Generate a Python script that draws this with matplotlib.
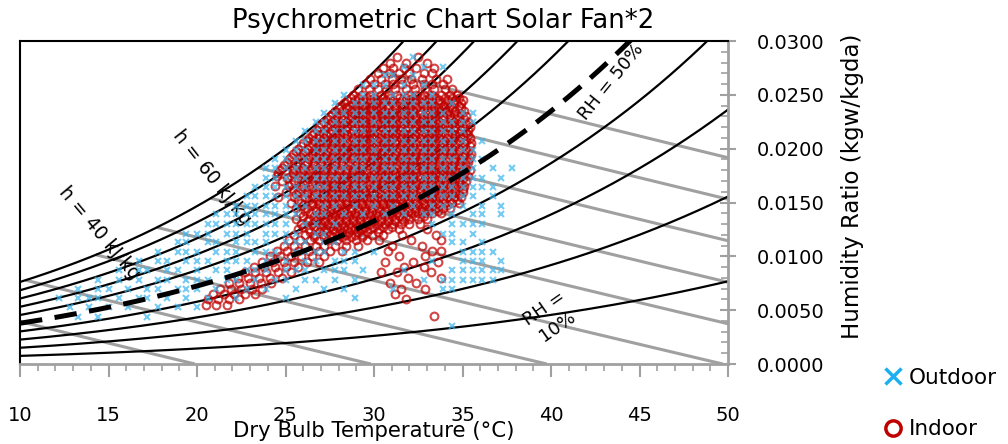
import numpy as np
import matplotlib
matplotlib.use("Agg")
import matplotlib.pyplot as plt
from matplotlib.lines import Line2D

plt.rcParams['font.family'] = ['DejaVu Sans']

# chart lines
rh_levels = [10, 20, 30, 40, 50, 60, 70, 80, 90, 100]
h_levels = [20, 30, 40, 50, 60, 70, 80, 90, 100]
x_ticks = [10, 15, 20, 25, 30, 35, 40, 45, 50]
y_ticks = [0.0, 0.005, 0.010, 0.015, 0.020, 0.025, 0.030]

# outdoor readings, one list of dry bulb temps (C) per humidity ratio row
outdoor_w = [0.0035, 0.0044, 0.0053, 0.0061, 0.0070, 0.0078, 0.0087, 0.0096,
             0.0104, 0.0113, 0.0121, 0.0130, 0.0139, 0.0147, 0.0156, 0.0164,
             0.0173, 0.0182, 0.0190, 0.0199, 0.0207, 0.0216, 0.0225, 0.0233,
             0.0242, 0.0250, 0.0259, 0.0268, 0.0276, 0.0285]
outdoor_t = [
    [34.4],
    [13.3, 14.4, 17.2],
    [12.8, 13.9, 15.0, 16.1, 17.8, 18.9, 20.0],
    [12.2, 13.3, 13.9, 14.4, 15.6, 16.7, 17.2, 18.3, 19.4, 20.6, 22.2, 25.0, 28.9],
    [13.3, 14.4, 15.0, 16.1, 17.2, 17.8, 18.9, 19.4, 20.0, 21.1, 22.8, 23.9, 25.6, 27.2, 28.3, 31.1, 33.9, 34.4],
    [14.4, 15.6, 16.7, 17.8, 18.3, 19.4, 20.0, 20.6, 21.7, 22.2, 23.3, 24.4, 25.0, 26.1, 26.7, 27.8, 28.9, 32.8, 33.9, 34.4, 35.0, 35.6, 36.1, 36.7],
    [15.6, 16.7, 17.2, 18.3, 18.9, 20.0, 21.1, 21.7, 22.8, 23.3, 23.9, 25.0, 25.6, 26.1, 27.2, 27.8, 28.3, 29.4, 31.7, 34.4, 35.0, 35.6, 36.1, 36.7, 37.2],
    [16.7, 17.8, 18.3, 19.4, 20.0, 20.6, 21.7, 22.2, 22.8, 23.9, 24.4, 25.0, 26.1, 26.7, 27.8, 28.3, 28.9, 33.3, 35.0, 35.6, 36.1, 37.2],
    [17.8, 18.9, 19.4, 20.0, 21.1, 21.7, 22.2, 23.3, 23.9, 24.4, 25.6, 26.1, 26.7, 27.2, 28.3, 28.9, 30.0, 35.0, 35.6, 36.1, 36.7],
    [18.9, 19.4, 20.6, 21.1, 22.2, 22.8, 23.3, 23.9, 25.0, 25.6, 26.1, 27.2, 27.8, 34.4, 35.0, 36.1],
    [19.4, 20.0, 20.6, 21.7, 22.2, 22.8, 23.9, 24.4, 25.0, 25.6, 26.7, 27.2, 33.9, 34.4, 35.6],
    [20.6, 21.1, 21.7, 22.2, 22.8, 23.3, 23.9, 24.4, 25.0, 26.1, 26.7, 27.8, 33.3, 34.4, 35.0, 35.6, 36.1],
    [21.1, 21.7, 22.2, 22.8, 23.3, 23.9, 24.4, 25.0, 25.6, 26.7, 27.2, 28.3, 29.4, 30.6, 31.7, 32.8, 33.3, 34.4, 35.6, 36.1, 37.2],
    [22.2, 22.8, 23.3, 23.9, 24.4, 25.0, 25.6, 26.1, 27.2, 27.8, 28.9, 30.0, 31.1, 32.2, 33.3, 33.9, 34.4, 35.0, 36.1, 37.2],
    [22.8, 23.3, 23.9, 24.4, 25.0, 25.6, 26.1, 26.7, 27.2, 27.8, 28.3, 28.9, 29.4, 30.0, 30.6, 31.1, 31.7, 32.2, 32.8, 33.3, 33.9, 34.4, 35.0, 35.6, 36.7],
    [23.3, 23.9, 24.4, 25.0, 25.6, 26.1, 26.7, 27.2, 27.8, 28.3, 28.9, 29.4, 30.0, 30.6, 31.1, 31.7, 32.2, 32.8, 33.3, 33.9, 34.4, 35.0, 35.6, 36.1, 36.7],
    [23.9, 24.4, 25.0, 25.6, 26.1, 26.7, 27.2, 27.8, 28.3, 28.9, 29.4, 30.0, 30.6, 31.1, 31.7, 32.2, 32.8, 33.3, 33.9, 34.4, 35.0, 35.6, 36.1, 37.2],
    [23.9, 24.4, 25.0, 25.6, 26.1, 26.7, 27.2, 27.8, 28.3, 28.9, 29.4, 30.0, 30.6, 31.1, 31.7, 32.2, 32.8, 33.3, 33.9, 34.4, 35.0, 35.6, 36.7, 37.8],
    [24.4, 25.0, 25.6, 26.1, 26.7, 27.2, 27.8, 28.3, 28.9, 29.4, 30.0, 30.6, 31.1, 31.7, 32.2, 32.8, 33.3, 33.9, 34.4, 35.0, 35.6, 36.1],
    [25.0, 25.6, 26.1, 26.7, 27.2, 27.8, 28.3, 28.9, 29.4, 30.0, 30.6, 31.1, 31.7, 32.2, 32.8, 33.3, 33.9, 34.4, 35.0, 35.6],
    [25.6, 26.1, 26.7, 27.2, 27.8, 28.3, 28.9, 29.4, 30.0, 30.6, 31.1, 31.7, 32.2, 32.8, 33.3, 33.9, 34.4, 35.0, 36.1],
    [26.1, 26.7, 27.2, 27.8, 28.3, 28.9, 29.4, 30.0, 30.6, 31.1, 31.7, 32.2, 32.8, 33.3, 33.9, 34.4, 35.0],
    [26.7, 27.2, 27.8, 28.3, 28.9, 29.4, 30.0, 30.6, 31.1, 31.7, 32.2, 32.8, 33.3, 33.9, 34.4, 35.0, 35.6],
    [27.2, 27.8, 28.3, 28.9, 29.4, 30.0, 30.6, 31.1, 31.7, 32.2, 32.8, 33.3, 33.9, 35.0, 35.6],
    [27.8, 28.9, 29.4, 30.0, 30.6, 31.1, 31.7, 32.2, 32.8, 33.3, 34.4],
    [28.3, 29.4, 30.0, 31.1, 31.7, 32.2, 33.3],
    [29.4, 30.0, 30.6, 31.7, 32.8],
    [30.6, 31.1, 32.2],
    [31.7, 32.8, 33.9],
    [32.2],
]

# indoor readings, same layout
indoor_w = [0.0285, 0.0280, 0.0275, 0.0270, 0.0265, 0.0260, 0.0255, 0.0250,
            0.0245, 0.0240, 0.0235, 0.0230, 0.0225, 0.0220, 0.0215, 0.0210,
            0.0205, 0.0200, 0.0195, 0.0190, 0.0185, 0.0180, 0.0175, 0.0170,
            0.0165, 0.0160, 0.0155, 0.0150, 0.0145, 0.0140, 0.0135, 0.0130,
            0.0125, 0.0120, 0.0115, 0.0110, 0.0105, 0.0100, 0.0095, 0.0090,
            0.0085, 0.0080, 0.0075, 0.0070, 0.0065, 0.0060, 0.0055, 0.0045]
indoor_t = [
    [31.3, 32.5],
    [30.9, 31.8, 33.0],
    [30.5, 31.1, 31.7, 32.4, 33.4],
    [30.2, 30.9, 31.4, 32.0, 32.8, 33.3],
    [29.8, 30.4, 31.0, 31.5, 32.1, 32.7, 33.5, 34.1],
    [29.5, 30.0, 30.6, 31.1, 31.6, 32.2, 32.8, 33.3, 33.9],
    [29.1, 29.7, 30.2, 30.7, 31.2, 31.8, 32.3, 32.9, 33.4, 34.0, 34.4],
    [28.8, 29.3, 29.8, 30.4, 30.8, 31.3, 31.9, 32.4, 32.8, 33.3, 33.8, 34.3, 34.7],
    [28.5, 28.9, 29.4, 29.8, 30.2, 30.7, 31.1, 31.6, 32.0, 32.4, 32.9, 33.3, 33.7, 34.2, 34.6, 35.0],
    [28.1, 28.6, 29.0, 29.5, 29.9, 30.3, 30.8, 31.2, 31.7, 32.1, 32.5, 33.0, 33.4, 33.9, 34.3, 34.8],
    [27.8, 28.2, 28.7, 29.1, 29.4, 29.9, 30.2, 30.6, 31.0, 31.4, 31.8, 32.2, 32.6, 33.0, 33.4, 33.8, 34.2, 34.6, 35.1],
    [27.5, 27.9, 28.3, 28.7, 29.1, 29.5, 29.8, 30.2, 30.5, 30.9, 31.3, 31.7, 32.0, 32.4, 32.8, 33.2, 33.5, 33.9, 34.3, 34.7, 35.2],
    [27.2, 27.6, 28.0, 28.4, 28.8, 29.2, 29.5, 29.9, 30.3, 30.7, 31.0, 31.4, 31.8, 32.2, 32.6, 32.9, 33.3, 33.7, 34.1, 34.5, 34.9, 35.3],
    [26.9, 27.4, 27.8, 28.1, 28.5, 28.9, 29.3, 29.7, 30.0, 30.4, 30.8, 31.2, 31.5, 31.9, 32.3, 32.7, 33.1, 33.5, 33.8, 34.2, 34.6, 35.0, 35.4],
    [26.6, 27.1, 27.5, 27.9, 28.3, 28.7, 29.1, 29.4, 29.8, 30.2, 30.6, 31.0, 31.3, 31.7, 32.1, 32.5, 32.9, 33.2, 33.6, 34.0, 34.4, 34.8, 35.2],
    [26.3, 26.8, 27.2, 27.6, 28.0, 28.4, 28.8, 29.2, 29.6, 29.9, 30.3, 30.7, 31.1, 31.5, 31.8, 32.2, 32.6, 33.0, 33.4, 33.7, 34.1, 34.5, 34.9, 35.4],
    [26.0, 26.5, 26.9, 27.3, 27.7, 28.1, 28.5, 28.9, 29.3, 29.7, 30.1, 30.5, 30.8, 31.2, 31.6, 32.0, 32.4, 32.8, 33.1, 33.5, 33.9, 34.3, 34.7, 35.1, 35.5],
    [25.7, 26.2, 26.7, 27.1, 27.5, 27.9, 28.3, 28.7, 29.0, 29.4, 29.8, 30.2, 30.6, 31.0, 31.4, 31.7, 32.1, 32.5, 32.9, 33.3, 33.6, 34.0, 34.4, 34.8, 35.2],
    [25.4, 26.0, 26.5, 26.9, 27.3, 27.7, 28.1, 28.5, 28.9, 29.2, 29.6, 30.0, 30.4, 30.8, 31.2, 31.6, 32.0, 32.3, 32.7, 33.1, 33.5, 33.9, 34.3, 34.7, 35.1, 35.5],
    [25.2, 25.8, 26.3, 26.7, 27.1, 27.5, 27.9, 28.3, 28.7, 29.1, 29.5, 29.9, 30.2, 30.6, 31.0, 31.4, 31.8, 32.2, 32.6, 33.0, 33.3, 33.7, 34.1, 34.5, 34.9, 35.3],
    [24.9, 25.6, 26.1, 26.6, 27.0, 27.4, 27.8, 28.2, 28.6, 29.0, 29.3, 29.7, 30.1, 30.5, 30.9, 31.3, 31.7, 32.1, 32.4, 32.8, 33.2, 33.6, 34.0, 34.4, 34.8, 35.2],
    [24.7, 25.4, 26.0, 26.4, 26.8, 27.2, 27.6, 28.0, 28.4, 28.8, 29.2, 29.6, 30.0, 30.3, 30.7, 31.1, 31.5, 31.9, 32.3, 32.7, 33.1, 33.4, 33.8, 34.2, 34.6, 35.0, 35.4],
    [24.5, 25.3, 25.8, 26.3, 26.7, 27.1, 27.5, 27.9, 28.3, 28.7, 29.1, 29.4, 29.8, 30.2, 30.6, 31.0, 31.4, 31.8, 32.2, 32.5, 32.9, 33.3, 33.7, 34.1, 34.5, 34.9, 35.3],
    [24.8, 25.5, 26.1, 26.6, 27.0, 27.4, 27.8, 28.2, 28.5, 28.9, 29.3, 29.7, 30.1, 30.5, 30.9, 31.3, 31.6, 32.0, 32.4, 32.8, 33.2, 33.6, 34.0, 34.4, 34.8, 35.2],
    [24.4, 25.2, 25.9, 26.4, 26.9, 27.3, 27.7, 28.1, 28.4, 28.8, 29.2, 29.6, 30.0, 30.4, 30.8, 31.2, 31.5, 31.9, 32.3, 32.7, 33.1, 33.5, 33.9, 34.3, 34.7, 35.1],
    [25.0, 25.7, 26.2, 26.7, 27.2, 27.6, 28.0, 28.3, 28.7, 29.1, 29.5, 29.9, 30.3, 30.7, 31.1, 31.4, 31.8, 32.2, 32.6, 33.0, 33.4, 33.8, 34.2, 34.6, 35.0],
    [24.6, 25.5, 26.1, 26.6, 27.0, 27.4, 27.8, 28.2, 28.6, 29.0, 29.4, 29.8, 30.2, 30.6, 31.0, 31.3, 31.7, 32.1, 32.5, 32.9, 33.3, 33.7, 34.1, 34.5, 34.9],
    [25.3, 25.9, 26.5, 26.9, 27.3, 27.7, 28.1, 28.5, 28.9, 29.3, 29.7, 30.1, 30.5, 30.9, 31.2, 31.6, 32.0, 32.4, 32.8, 33.2, 33.6, 34.0, 34.4, 34.8],
    [25.6, 26.2, 26.7, 27.1, 27.5, 27.9, 28.3, 28.7, 29.1, 29.5, 29.9, 30.3, 30.7, 31.1, 31.5, 31.9, 32.3, 32.7, 33.1, 33.5, 33.9, 34.3],
    [25.8, 26.4, 26.9, 27.3, 27.7, 28.1, 28.5, 28.9, 29.3, 29.7, 30.1, 30.5, 30.9, 31.3, 31.7, 32.1, 32.5, 32.9, 33.3, 33.8],
    [25.6, 26.3, 26.8, 27.2, 27.6, 28.0, 28.4, 28.8, 29.2, 29.6, 30.0, 30.4, 30.8, 31.2, 31.6, 32.0, 32.5, 33.0],
    [25.9, 26.5, 27.0, 27.4, 27.8, 28.2, 28.6, 29.0, 29.4, 29.8, 30.2, 30.6, 31.0, 31.5, 32.0, 32.6],
    [25.7, 26.3, 26.8, 27.3, 27.7, 28.1, 28.5, 28.9, 29.3, 29.8, 30.3, 30.8, 31.4, 33.0],
    [25.5, 26.1, 26.6, 27.1, 27.5, 28.0, 28.4, 28.9, 29.4, 29.9, 30.5, 31.6, 33.5],
    [25.2, 25.8, 26.4, 26.9, 27.4, 27.9, 28.4, 29.0, 29.6, 30.3, 32.1, 33.8],
    [24.9, 25.5, 26.1, 26.7, 27.2, 27.8, 28.4, 29.1, 31.0, 32.7],
    [24.5, 25.1, 25.7, 26.3, 26.9, 27.5, 28.2, 30.8, 33.3, 33.8],
    [24.1, 24.7, 25.3, 25.9, 26.5, 27.2, 31.4, 32.9],
    [23.7, 24.3, 24.9, 25.5, 26.2, 26.9, 30.6, 32.2, 33.6],
    [23.2, 23.8, 24.4, 25.0, 25.7, 31.7, 32.8],
    [22.7, 23.3, 23.9, 24.6, 25.3, 30.4, 31.3, 33.2],
    [22.3, 22.9, 23.5, 24.1, 24.8, 31.9, 33.8],
    [21.8, 22.4, 23.0, 23.6, 24.2, 30.9, 32.4],
    [21.3, 21.9, 22.5, 23.1, 23.7, 31.5, 32.9],
    [20.9, 21.5, 22.1, 22.7, 23.3, 31.2],
    [20.6, 21.2, 21.8, 22.4, 31.8],
    [20.5, 21.1, 21.7],
    [33.4],
]

# indoor readings in the dense core, rows in between the ones above
indoor_w_mid = [0.02475, 0.02425, 0.02375, 0.02325, 0.02275, 0.02225, 0.02175,
                0.02125, 0.02075, 0.02025, 0.01975, 0.01925, 0.01875, 0.01825,
                0.01775, 0.01725, 0.01675, 0.01625, 0.01575, 0.01525, 0.01475,
                0.01425, 0.01375, 0.01325, 0.01275, 0.01225, 0.01175]
indoor_t_mid = [
    [28.7, 29.1, 29.6, 30.0, 30.5, 30.9, 31.4, 31.8, 32.2, 32.7, 33.1, 33.5, 34.0, 34.4, 34.8],
    [28.3, 28.8, 29.2, 29.7, 30.1, 30.5, 31.0, 31.4, 31.9, 32.3, 32.7, 33.2, 33.6, 34.1, 34.5, 34.9],
    [28.0, 28.4, 28.9, 29.3, 29.7, 30.1, 30.4, 30.8, 31.2, 31.6, 32.0, 32.4, 32.8, 33.2, 33.6, 34.0, 34.4, 34.9],
    [27.6, 28.0, 28.5, 28.9, 29.3, 29.6, 30.0, 30.4, 30.7, 31.1, 31.5, 31.9, 32.2, 32.6, 33.0, 33.4, 33.7, 34.1, 34.5, 34.9],
    [27.4, 27.8, 28.2, 28.6, 29.0, 29.3, 29.7, 30.1, 30.5, 30.8, 31.2, 31.6, 32.0, 32.4, 32.7, 33.1, 33.5, 33.9, 34.3, 34.7, 35.1],
    [27.0, 27.5, 27.9, 28.3, 28.7, 29.1, 29.5, 29.8, 30.2, 30.6, 31.0, 31.3, 31.7, 32.1, 32.5, 32.8, 33.2, 33.6, 34.0, 34.4, 34.8, 35.2],
    [26.8, 27.2, 27.6, 28.0, 28.4, 28.8, 29.2, 29.6, 29.9, 30.3, 30.7, 31.1, 31.4, 31.8, 32.2, 32.6, 33.0, 33.3, 33.7, 34.1, 34.5, 34.9, 35.3],
    [26.5, 26.9, 27.3, 27.8, 28.1, 28.5, 28.9, 29.3, 29.7, 30.0, 30.4, 30.8, 31.2, 31.6, 31.9, 32.3, 32.7, 33.1, 33.5, 33.8, 34.2, 34.6, 35.0, 35.3],
    [26.2, 26.6, 27.0, 27.4, 27.8, 28.2, 28.6, 29.0, 29.4, 29.8, 30.2, 30.6, 30.9, 31.3, 31.7, 32.1, 32.5, 32.9, 33.2, 33.6, 34.0, 34.4, 34.8, 35.2],
    [25.9, 26.4, 26.8, 27.2, 27.6, 28.0, 28.4, 28.8, 29.2, 29.6, 29.9, 30.3, 30.7, 31.1, 31.5, 31.9, 32.2, 32.6, 33.0, 33.4, 33.8, 34.2, 34.6, 35.0, 35.4],
    [25.6, 26.1, 26.6, 27.0, 27.4, 27.8, 28.2, 28.6, 29.0, 29.4, 29.7, 30.1, 30.5, 30.9, 31.3, 31.7, 32.1, 32.4, 32.8, 33.2, 33.6, 34.0, 34.4, 34.8, 35.3],
    [25.3, 25.9, 26.4, 26.8, 27.2, 27.6, 28.0, 28.4, 28.8, 29.2, 29.6, 30.0, 30.3, 30.7, 31.1, 31.5, 31.9, 32.3, 32.7, 33.1, 33.4, 33.8, 34.2, 34.6, 35.0, 35.4],
    [25.1, 25.7, 26.2, 26.6, 27.0, 27.4, 27.8, 28.2, 28.6, 29.0, 29.4, 29.8, 30.2, 30.6, 31.0, 31.4, 31.8, 32.2, 32.6, 32.9, 33.3, 33.7, 34.1, 34.5, 34.9, 35.3],
    [24.8, 25.5, 26.0, 26.5, 26.9, 27.3, 27.7, 28.1, 28.5, 28.9, 29.3, 29.7, 30.1, 30.5, 30.9, 31.3, 31.7, 32.0, 32.4, 32.8, 33.2, 33.6, 34.0, 34.4, 34.8, 35.2],
    [24.6, 25.4, 25.9, 26.4, 26.8, 27.2, 27.6, 28.0, 28.4, 28.8, 29.2, 29.6, 30.0, 30.4, 30.8, 31.2, 31.6, 32.0, 32.4, 32.8, 33.2, 33.5, 33.9, 34.3, 34.7, 35.1],
    [25.1, 25.7, 26.2, 26.7, 27.1, 27.5, 27.9, 28.3, 28.7, 29.1, 29.5, 29.9, 30.3, 30.7, 31.1, 31.5, 31.9, 32.2, 32.6, 33.0, 33.4, 33.8, 34.2, 34.6, 35.0],
    [25.3, 26.0, 26.5, 26.9, 27.3, 27.7, 28.1, 28.5, 28.9, 29.3, 29.7, 30.1, 30.5, 30.9, 31.3, 31.7, 32.1, 32.5, 32.9, 33.3, 33.7, 34.1, 34.5, 34.9],
    [25.4, 25.9, 26.4, 26.9, 27.4, 27.8, 28.2, 28.6, 29.0, 29.4, 29.8, 30.2, 30.6, 31.0, 31.4, 31.8, 32.2, 32.6, 33.0, 33.4, 33.8, 34.2, 34.6, 35.0],
    [25.6, 26.2, 26.8, 27.2, 27.6, 28.0, 28.4, 28.8, 29.2, 29.6, 30.0, 30.4, 30.8, 31.2, 31.6, 32.0, 32.4, 32.8, 33.2, 33.6, 34.0, 34.4, 34.8],
    [25.7, 26.3, 26.8, 27.2, 27.6, 28.0, 28.4, 28.8, 29.2, 29.6, 30.0, 30.4, 30.8, 31.1, 31.5, 31.9, 32.3, 32.7, 33.1, 33.5, 33.9, 34.3, 34.7],
    [26.0, 26.5, 26.9, 27.3, 27.7, 28.1, 28.5, 28.9, 29.3, 29.7, 30.1, 30.5, 30.9, 31.3, 31.7, 32.1, 32.5, 32.9, 33.3, 33.7, 34.1],
    [26.1, 26.7, 27.1, 27.5, 27.9, 28.3, 28.7, 29.1, 29.5, 29.9, 30.3, 30.7, 31.1, 31.5, 31.9, 32.3, 32.7, 33.1, 33.6],
    [26.0, 26.6, 27.0, 27.4, 27.8, 28.2, 28.6, 29.0, 29.4, 29.8, 30.2, 30.6, 31.0, 31.4, 31.8, 32.3, 32.8],
    [26.2, 26.7, 27.2, 27.6, 28.0, 28.4, 28.8, 29.2, 29.6, 30.0, 30.4, 30.8, 31.2, 31.7],
    [26.0, 26.6, 27.0, 27.5, 27.9, 28.3, 28.7, 29.1, 29.5, 30.0, 30.5, 31.0],
    [26.4, 26.9, 27.3, 27.8, 28.2, 28.6, 29.1, 29.6, 30.2],
    [26.6, 27.2, 27.7, 28.2, 28.7, 29.3],
]

P = 101.325


def psat(t):
    return 0.61094 * np.exp(17.625 * t / (t + 243.04))


def hum_ratio(t, rh):
    pv = rh / 100.0 * psat(t)
    return 0.622 * pv / (P - pv)


fig = plt.figure(figsize=(10.08, 4.44), dpi=100)
ax = fig.add_axes([20 / 1008, 1 - 364 / 444, 708 / 1008, 323 / 444])

tt = np.linspace(10, 50, 400)

# enthalpy lines
ws_all = hum_ratio(tt, 100)
hs_all = 1.006 * tt + ws_all * (2501 + 1.86 * tt)
for h in h_levels:
    t0 = max(10.0, np.interp(h, hs_all, tt))
    t1 = min(50.0, h / 1.006)
    t = np.linspace(t0, t1, 100)
    w = (h - 1.006 * t) / (2501 + 1.86 * t)
    ax.plot(t, w, color='#a0a0a0', lw=2.2, zorder=1, solid_capstyle='butt')

# RH curves
for rh in rh_levels:
    if rh == 50:
        ax.plot(tt, hum_ratio(tt, rh), color='black', lw=3.6, dashes=(4.5, 2.5), zorder=5)
    else:
        ax.plot(tt, hum_ratio(tt, rh), color='black', lw=1.6, zorder=2)

ix = [t for row in indoor_t for t in row] + [t for row in indoor_t_mid for t in row]
iy = ([w for w, row in zip(indoor_w, indoor_t) for t in row]
      + [w for w, row in zip(indoor_w_mid, indoor_t_mid) for t in row])
ox = [t for row in outdoor_t for t in row]
oy = [w for w, row in zip(outdoor_w, outdoor_t) for t in row]

ax.plot(ix, iy, 'o', mfc='none', mec='#c00000', ms=5.6, mew=1.5, alpha=0.72, zorder=3)
ax.plot(ox, oy, 'x', color='#3bb5ec', ms=3.9, mew=1.5, alpha=0.7, zorder=4)

ax.text(14.5, 0.0122, 'h = 40 kJ/kg', rotation=-50, ha='center', va='center', fontsize=13.5)
ax.text(20.85, 0.0173, 'h = 60 kJ/kg', rotation=-52, ha='center', va='center', fontsize=13.5)
ax.text(43.4, 0.0262, 'RH = 50%', rotation=51, ha='center', va='center', fontsize=13)
ax.text(40.0, 0.0043, 'RH =\n10%', rotation=35, ha='center', va='center',
        multialignment='center', fontsize=13, linespacing=1.3)

ax.set_xlim(10, 50)
ax.set_ylim(0, 0.03)
ax.set_xticks(x_ticks)
ax.set_xticks(np.arange(10, 51, 1), minor=True)
ax.set_yticks(y_ticks)
ax.set_yticks(np.arange(0, 0.0301, 0.001), minor=True)
ax.set_yticklabels(['%.4f' % v for v in y_ticks])
ax.yaxis.tick_right()

ax.spines['top'].set_color('black')
ax.spines['left'].set_color('black')
ax.spines['top'].set_linewidth(1.5)
ax.spines['left'].set_linewidth(1.5)
ax.spines['bottom'].set_color('#a0a0a0')
ax.spines['right'].set_color('#a0a0a0')
ax.spines['bottom'].set_linewidth(2)
ax.spines['right'].set_linewidth(2)

ax.tick_params(axis='x', which='major', direction='out', length=9, width=1.5,
               color='#a0a0a0', labelsize=14, pad=21)
ax.tick_params(axis='x', which='minor', direction='out', length=5, width=1.2, color='#a0a0a0')
ax.tick_params(axis='y', which='major', direction='inout', length=12, width=1.5,
               color='#a0a0a0', labelsize=14, pad=15)
ax.tick_params(axis='y', which='minor', direction='in', length=5, width=1.2, color='#a0a0a0')

fig.text(443 / 1008, 1 - 21 / 444, 'Psychrometric Chart Solar Fan*2', ha='center', va='center', fontsize=18.7)
fig.text(374 / 1008, 1 - 431 / 444, 'Dry Bulb Temperature (°C)', ha='center', va='center', fontsize=15.3)
fig.text(853 / 1008, 1 - 186 / 444, 'Humidity Ratio (kgw/kgda)', ha='center', va='center',
         rotation=90, fontsize=16.5)

handles = [Line2D([], [], ls='none', marker='x', color='#1cb0f0', ms=11, mew=2.5),
           Line2D([], [], ls='none', marker='o', mfc='none', mec='#c00000', ms=11, mew=2.5)]
fig.legend(handles, ['Outdoor', 'Indoor'], loc='upper left', bbox_to_anchor=(884 / 1008, 1 - 368 / 444),
           frameon=False, fontsize=15.5, handlelength=0.8, handletextpad=0.35, labelspacing=1.45,
           borderpad=0, borderaxespad=0)

fig.savefig('out.png', dpi=100)
